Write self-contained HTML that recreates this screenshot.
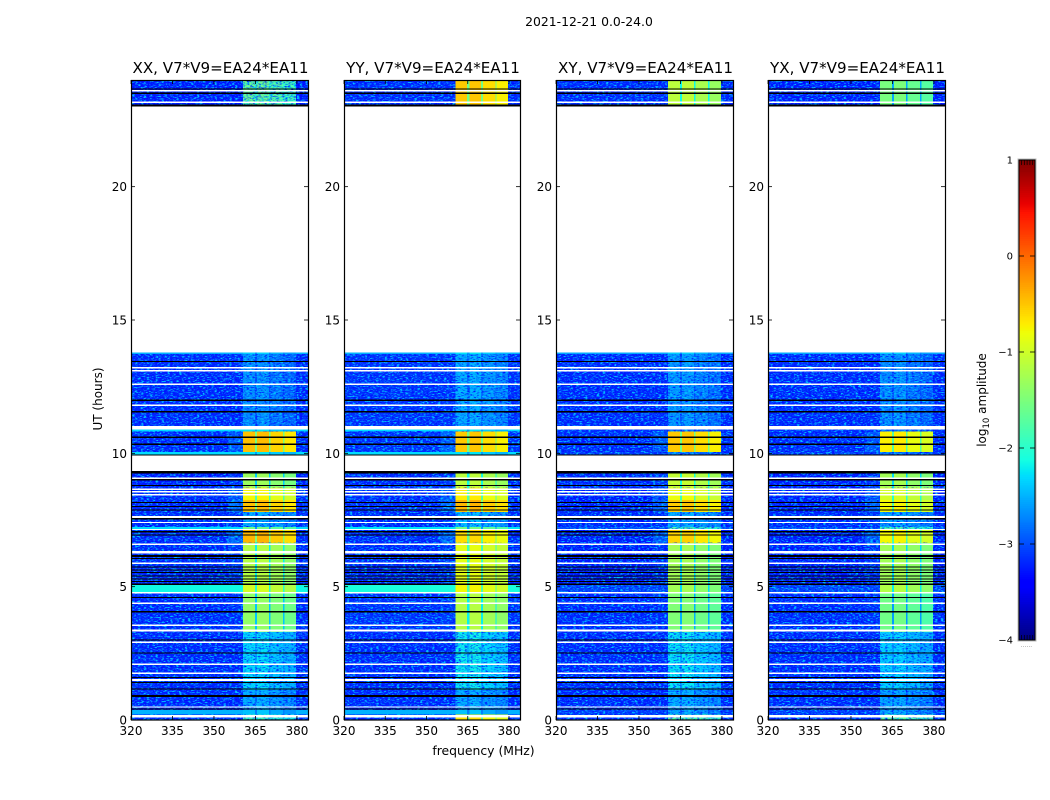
<!DOCTYPE html>
<html lang="en">
<head>
<meta charset="utf-8">
<title>2021-12-21 dynamic spectra</title>
<style>
  html, body { margin: 0; padding: 0; background: #fff; }
  svg { display: block; }
  text { font-family: "DejaVu Sans", "Liberation Sans", sans-serif; fill: #000; }
</style>
</head>
<body>
<svg id="fig" width="1050" height="800" viewBox="0 0 1050 800" xmlns="http://www.w3.org/2000/svg">
  <defs>
    <filter id="speckle-light" x="0" y="0" width="100%" height="100%" color-interpolation-filters="sRGB">
      <feTurbulence type="fractalNoise" baseFrequency="0.34 0.8" numOctaves="2" seed="4"/>
      <feColorMatrix type="matrix" values="0 0 0 0 0  0 0 0 0 0.75  0 0 0 0 1  5.5 0 0 0 -2.75"/>
    </filter>
    <filter id="speckle-dark" x="0" y="0" width="100%" height="100%" color-interpolation-filters="sRGB">
      <feTurbulence type="fractalNoise" baseFrequency="0.34 0.8" numOctaves="2" seed="11"/>
      <feColorMatrix type="matrix" values="0 0 0 0 0  0 0 0 0 0  0 0 0 0 1  0 3 0 0 -1.5"/>
    </filter>
  </defs>
  <text x="589" y="26" font-size="12.4" text-anchor="middle">2021-12-21 0.0-24.0</text>
  <text x="483.5" y="755" font-size="12.4" text-anchor="middle">frequency (MHz)</text>
  <text x="0" y="0" font-size="12" text-anchor="middle" transform="translate(102 399) rotate(-90)">UT (hours)</text>
  <text x="0" y="0" font-size="12" text-anchor="middle" transform="translate(986 400) rotate(-90)">log<tspan font-size="8.5" dy="3">10</tspan><tspan dy="-3"> amplitude</tspan></text>
  <g id="panels"></g>
  <g id="colorbar"></g>
  <text x="1026.5" y="647" font-size="6" fill="#888" style="fill:#888" text-anchor="middle">......</text>
</svg>
<script>
// ---- chart data (hours, MHz, log10 amplitude) ----
const panelTitles = ["XX, V7*V9=EA24*EA11", "YY, V7*V9=EA24*EA11", "XY, V7*V9=EA24*EA11", "YX, V7*V9=EA24*EA11"];
const xTicks = [320, 335, 350, 365, 380];
const yTicks = [0, 5, 10, 15, 20];
const colorbarTicks = [1, 0, -1, -2, -3, -4];

const sectionStart = [23.0, 13.72, 11.02, 10.82, 10.05, 9.94, 8.72, 8.25, 7.8, 7.24, 7.12, 6.64, 5.06, 4.8, 3.3, 1.12, 0.38, 0.2, 0];
const sectionEnd   = [24.0, 13.79, 13.72, 11.02, 10.82, 10.05, 9.34, 8.72, 8.25, 7.8, 7.24, 7.12, 6.64, 5.06, 4.8, 3.3, 1.12, 0.38, 0.2];

const backgroundXX = [-3.25, -2.5, -3.2, -2.3, -3.2, -2.3, -3.25, -3.2, -3.2, -3.2, -2.3, -3.2, -3.2, -2.15, -3.2, -3.2, -3.2, -2.5, -3.2];
const backgroundYY = [-3.2, -2.5, -3.15, -2.3, -3.15, -2.3, -3.2, -3.2, -3.2, -3.2, -2.25, -3.2, -3.2, -2.1, -3.15, -3.2, -3.2, -2.5, -3.2];
const backgroundXY = [-3.2, -2.55, -3.2, -3.15, -3.2, -3.1, -3.2, -3.25, -3.25, -3.2, -3.0, -3.25, -3.25, -3.05, -3.2, -3.2, -3.2, -3.1, -3.2];
const backgroundYX = [-3.25, -2.55, -3.2, -3.15, -3.2, -3.1, -3.25, -3.25, -3.25, -3.2, -3.0, -3.25, -3.25, -3.05, -3.2, -3.2, -3.2, -3.1, -3.2];

const bandXX = [-1.65, -2.4, -2.7, -2.3, -0.5, -2.3, -1.35, -0.8, -0.5, -2.55, -1.6, -0.45, -1.2, -1.0, -1.4, -2.3, -2.55, -2.45, -1.9];
const bandYY = [-0.55, -2.3, -2.55, -2.3, -0.55, -2.3, -1.15, -0.75, -0.45, -2.45, -1.6, -0.65, -0.9, -0.8, -1.2, -2.2, -2.55, -2.45, -0.7];
const bandXY = [-1.15, -2.4, -2.65, -2.9, -0.55, -2.8, -1.1, -0.85, -0.55, -2.55, -1.8, -0.6, -1.3, -1.3, -1.5, -2.25, -2.55, -2.6, -1.7];
const bandYX = [-1.55, -2.4, -2.7, -2.9, -0.75, -2.8, -1.3, -1.0, -0.8, -2.6, -1.8, -0.8, -1.3, -1.2, -1.6, -2.35, -2.6, -2.6, -1.7];

const subbandStart = [360.5, 365.6, 370.5, 375.5];
const subbandEnd   = [364.8, 369.9, 375.0, 379.7];
const subbandTrim  = [0.03, 0.05, -0.08, -0.18];
const rampStart = 355;
const rampLevels = [0, 0, 0, 0, 0.25, 0, 0.1, 0.25, 0.35, 0.05, 0, 0.35, 0.1, 0, 0.05, 0, 0, 0, 0];

const whiteRowStart = [23.57, 23.14, 13.19, 13.07, 12.57, 11.78, 10.9, 9.34, 9.04, 8.63, 8.54, 8.42, 7.58, 7.38, 7.13, 6.56, 6.24, 5.85, 4.74, 4.35, 3.53, 3.32, 2.89, 2.07, 1.73, 1.46, 0.46, 0.09];
const whiteRowEnd   = [23.63, 23.19, 13.24, 13.12, 12.62, 11.83, 11.02, 9.94, 9.09, 8.68, 8.59, 8.47, 7.65, 7.43, 7.17, 6.62, 6.34, 5.9, 4.8, 4.4, 3.58, 3.39, 2.94, 2.12, 1.78, 1.54, 0.51, 0.19];
const blackRowStart = [23.0, 23.48, 23.64, 13.42, 11.97, 11.53, 10.58, 10.32, 9.92, 9.25, 8.98, 8.77, 8.13, 7.98, 7.85, 7.52, 7.04, 6.92, 6.12, 6.04, 5.71, 5.61, 5.51, 5.38, 5.27, 5.17, 5.07, 4.57, 4.04, 2.98, 2.5, 1.57, 1.39, 1.14, 0.87, 0.39];
const blackRowEnd   = [23.09, 23.53, 23.68, 13.47, 12.02, 11.58, 10.63, 10.37, 9.96, 9.34, 9.03, 8.82, 8.18, 8.03, 7.9, 7.57, 7.08, 6.96, 6.19, 6.08, 5.75, 5.65, 5.55, 5.42, 5.31, 5.21, 5.11, 4.61, 4.08, 3.02, 2.54, 1.61, 1.43, 1.18, 0.93, 0.43];

const backgroundLevels = [backgroundXX, backgroundYY, backgroundXY, backgroundYX];
const bandLevels = [bandXX, bandYY, bandXY, bandYX];

// ---- axis functions ----
const SVG_NS = "http://www.w3.org/2000/svg";
const FREQ_MIN = 320, FREQ_MAX = 384, HOUR_MIN = 0, HOUR_MAX = 24;
const PLOT_TOP = 80, PLOT_BOTTOM = 720;
const CBAR_LEFT = 1019, CBAR_RIGHT = 1035, CBAR_TOP = 160, CBAR_BOTTOM = 640;
function panelLeft(i) { return Math.round(131.25 + 212.25 * i); }
function panelRight(i) { return Math.round(131.25 + 212.25 * i + 176.9); }
function xScale(i, mhz) { return panelLeft(i) + (mhz - FREQ_MIN) / (FREQ_MAX - FREQ_MIN) * (panelRight(i) - panelLeft(i)); }
function yScale(hour) { return PLOT_BOTTOM - (hour - HOUR_MIN) / (HOUR_MAX - HOUR_MIN) * (PLOT_BOTTOM - PLOT_TOP); }
function cbarScale(level) { return CBAR_BOTTOM - (level + 4) / 5 * (CBAR_BOTTOM - CBAR_TOP); }
function jetChannel(f, pts) {
  for (let k = 1; k < pts.length; k++) {
    if (f <= pts[k][0]) {
      const a = pts[k - 1], b = pts[k];
      return a[1] + (b[1] - a[1]) * (f - a[0]) / (b[0] - a[0]);
    }
  }
  return pts[pts.length - 1][1];
}
function colorScale(level) {
  const f = Math.max(0, Math.min(1, (level + 4) / 5));
  const r = jetChannel(f, [[0, 0], [0.35, 0], [0.66, 1], [0.89, 1], [1, 0.5]]);
  const g = jetChannel(f, [[0, 0], [0.125, 0], [0.375, 1], [0.64, 1], [0.91, 0], [1, 0]]);
  const b = jetChannel(f, [[0, 0.5], [0.11, 1], [0.34, 1], [0.65, 0], [1, 0]]);
  return "rgb(" + Math.round(r * 255) + "," + Math.round(g * 255) + "," + Math.round(b * 255) + ")";
}
function make(tag, attrs, parent) {
  const el = document.createElementNS(SVG_NS, tag);
  for (const k in attrs) el.setAttribute(k, attrs[k]);
  parent.appendChild(el);
  return el;
}
function cell(parent, i, f0, f1, h0, h1, fill) {
  const x0 = xScale(i, f0), x1 = xScale(i, f1), y0 = yScale(h1), y1 = yScale(h0);
  const el = make("rect", { x: x0, y: y0, width: x1 - x0, height: y1 - y0, fill: fill, "shape-rendering": "crispEdges" }, parent);
  
  
  return el;
}

// ---- panels ----
const panelsRoot = document.getElementById("panels");
panelTitles.forEach(function (title, i) {
  const g = make("g", {}, panelsRoot);
  
  

  const bg = backgroundLevels[i], band = bandLevels[i];
  sectionStart.forEach(function (h0, s) {
    const h1 = sectionEnd[s];
    cell(g, i, FREQ_MIN, FREQ_MAX, h0, h1, colorScale(bg[s]));
    if (rampLevels[s] > 0) {
      cell(g, i, rampStart, subbandStart[0], h0, h1, colorScale(bg[s] + rampLevels[s]));
    }
    const smoothRow = bg[s] > -2.6;
    const cool = band[s] < -1.6;
    function drawBands(gapDrop) {
      cell(g, i, subbandStart[0], subbandEnd[3], h0, h1, colorScale(band[s] - gapDrop));
      subbandStart.forEach(function (f0, b) {
        cell(g, i, f0, subbandEnd[b], h0, h1, colorScale(band[s] + subbandTrim[b]));
      });
    }
    if (cool && !smoothRow) drawBands(0.3);
    const x0 = xScale(i, FREQ_MIN), x1 = xScale(i, FREQ_MAX), y0 = yScale(h1), y1 = yScale(h0);
    ["speckle-light", "speckle-dark"].forEach(function (fid) {
      const n = make("rect", { x: x0, y: y0, width: x1 - x0, height: y1 - y0, fill: "#000", filter: "url(#" + fid + ")" }, g);
      
      
    });
    if (smoothRow) cell(g, i, FREQ_MIN, FREQ_MAX, h0, h1, colorScale(bg[s]));
    if (!cool || smoothRow) drawBands(cool ? 0.3 : 1.0);
  });
  whiteRowStart.forEach(function (h0, r) {
    cell(g, i, FREQ_MIN, FREQ_MAX, h0, whiteRowEnd[r], "#fff");
  });
  const blankA = cell(g, i, FREQ_MIN, FREQ_MAX, 13.79, 23.0, "#fff");
  
  blackRowStart.forEach(function (h0, r) {
    cell(g, i, FREQ_MIN, FREQ_MAX, h0, blackRowEnd[r], "#000");
  });

  const left = panelLeft(i), right = panelRight(i);
  const frame = make("rect", { x: left + 0.5, y: PLOT_TOP + 0.5, width: right - left, height: PLOT_BOTTOM - PLOT_TOP - 0.5, fill: "none", stroke: "#000", "stroke-width": 1.2 }, g);
  
  

  xTicks.forEach(function (tick) {
    const x = xScale(i, tick);
    const bottomTick = make("line", { x1: x, x2: x, y1: PLOT_BOTTOM, y2: PLOT_BOTTOM - 4, stroke: "#000", "stroke-width": 0.8 }, g);
    
    
    const topTick = make("line", { x1: x, x2: x, y1: PLOT_TOP, y2: PLOT_TOP + 4, stroke: "#000", "stroke-width": 0.8 }, g);
    
    
    const label = make("text", { x: x, y: 735, "font-size": 12, "text-anchor": "middle" }, g);
    
    
    label.textContent = tick;
  });
  yTicks.forEach(function (tick) {
    const y = yScale(tick);
    const leftTick = make("line", { x1: left, x2: left + 4, y1: y, y2: y, stroke: "#000", "stroke-width": 0.8 }, g);
    
    
    const rightTick = make("line", { x1: right, x2: right - 4, y1: y, y2: y, stroke: "#000", "stroke-width": 0.8 }, g);
    
    
    const label = make("text", { x: left - 4, y: y + 4.5, "font-size": 12, "text-anchor": "end" }, g);
    
    
    label.textContent = tick;
  });

  const titleEl = make("text", { x: (left + right) / 2 + 1, y: 73, "font-size": 15.1, "text-anchor": "middle" }, g);
  
  
  titleEl.textContent = title;
});

// ---- colorbar ----
const cbarRoot = document.getElementById("colorbar");
const CBAR_STEP = 0.02;
for (let n = 0; n < 250; n++) {
  const level = -4 + n * CBAR_STEP;
  const y1 = cbarScale(level), y0 = cbarScale(level + CBAR_STEP);
  const swatch = make("rect", { x: CBAR_LEFT, y: y0, width: CBAR_RIGHT - CBAR_LEFT, height: y1 - y0 + 0.3, fill: colorScale(level + CBAR_STEP / 2), "shape-rendering": "crispEdges" }, cbarRoot);
  
  
}
const halo = make("rect", { x: CBAR_LEFT - 0.5, y: CBAR_TOP - 0.5, width: CBAR_RIGHT - CBAR_LEFT + 1, height: CBAR_BOTTOM - CBAR_TOP + 1, fill: "none", stroke: "#bbb", "stroke-width": 2 }, cbarRoot);


const cbarFrame = make("rect", { x: CBAR_LEFT, y: CBAR_TOP, width: CBAR_RIGHT - CBAR_LEFT, height: CBAR_BOTTOM - CBAR_TOP, fill: "none", stroke: "#000", "stroke-width": 1 }, cbarRoot);


colorbarTicks.forEach(function (tick) {
  const y = cbarScale(tick);
  const a = make("line", { x1: CBAR_LEFT, x2: CBAR_LEFT + 5, y1: y, y2: y, stroke: "#000", "stroke-width": 0.8 }, cbarRoot);
  
  
  const b = make("line", { x1: CBAR_RIGHT, x2: CBAR_RIGHT - 5, y1: y, y2: y, stroke: "#000", "stroke-width": 0.8 }, cbarRoot);
  
  
  const label = make("text", { x: 1013, y: y + 3.5, "font-size": 10, "text-anchor": "end" }, cbarRoot);
  
  
  label.textContent = tick < 0 ? "\u2212" + Math.abs(tick) : String(tick);
});
for (let k = 0; k < 5; k++) {
  const x = CBAR_LEFT + 2.5 + k * 2.8;
  const t = make("line", { x1: x, x2: x, y1: CBAR_TOP, y2: CBAR_TOP + 5, stroke: "#000", "stroke-width": 0.7 }, cbarRoot);
  
  
  const u = make("line", { x1: x, x2: x, y1: CBAR_BOTTOM, y2: CBAR_BOTTOM - 5, stroke: "#000", "stroke-width": 0.7 }, cbarRoot);
  
  
}
</script>
</body>
</html>
